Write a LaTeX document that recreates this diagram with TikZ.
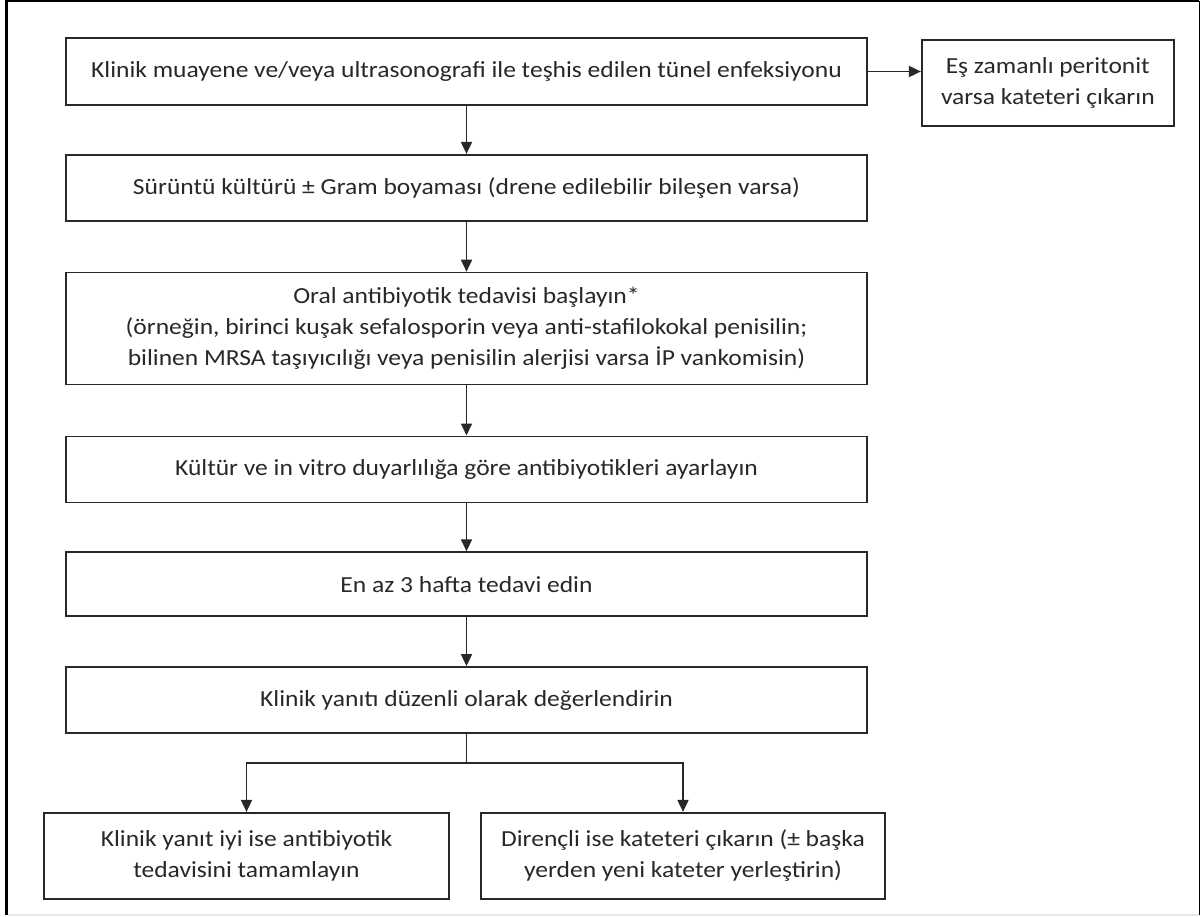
\documentclass[tikz,border=0pt]{standalone}
\usepackage{fontspec}
\setmainfont{Carlito}[FakeStretch=1.11]
\usetikzlibrary{arrows.meta,positioning}
\definecolor{LineDark}{RGB}{40,40,40}
\definecolor{TextDark}{RGB}{40,40,40}
\definecolor{FrameGray}{RGB}{232,232,232}
\tikzset{
  stepbox/.style={draw=LineDark,line width=1.8pt,fill=white,align=center,
    text=TextDark,font=\fontsize{23pt}{31pt}\selectfont,inner sep=0pt},
  mainbox/.style={stepbox,minimum width=801pt,minimum height=66pt},
  sidebox/.style={stepbox,minimum width=252pt,minimum height=86pt},
  endbox/.style={stepbox,minimum width=405pt,minimum height=86pt},
  flowarrow/.style={-{Triangle[length=12pt,width=11pt]},
    line width=1.8pt,draw=LineDark},
}
\begin{document}
\begin{tikzpicture}[x=1pt,y=1pt,node distance=49pt]
  \useasboundingbox (0,0) rectangle (1200,-917);
  % outer frame
  \draw[line width=3pt] (6.5,-915) -- (6.5,-1);
  \draw[line width=2pt] (5,-1) -- (1199.3,-1);
  \draw[line width=1.4pt] (1199.3,-1) -- (1199.3,-915);
  \draw[line width=1.5pt,FrameGray] (8,-915) -- (1199,-915);
  % steps
  \node[mainbox,minimum height=67pt] (tunnel) at (466.5,-71.5)
    {Klinik muayene ve/veya ultrasonografi ile teşhis edilen tünel enfeksiyonu};
  \node[sidebox,right=53pt of tunnel,yshift=-11.5pt] (peritonitis)
    {Eş zamanlı peritonit\\varsa kateteri çıkarın};
  \node[mainbox,below=48pt of tunnel] (swab)
    {Sürüntü kültürü ± Gram boyaması (drene edilebilir bileşen varsa)};
  \node[mainbox,below=50pt of swab,minimum height=112pt] (oral)
    {Oral antibiyotik tedavisi başlayın*\\(örneğin, birinci kuşak sefalosporin veya anti-stafilokokal penisilin;\\bilinen MRSA taşıyıcılığı veya penisilin alerjisi varsa İP vankomisin)};
  \node[mainbox,below=50pt of oral] (adjust)
    {Kültür ve in vitro duyarlılığa göre antibiyotikleri ayarlayın};
  \node[mainbox,below=48pt of adjust,minimum height=64pt] (weeks)
    {En az 3 hafta tedavi edin};
  \node[mainbox,below=49pt of weeks] (assess)
    {Klinik yanıtı düzenli olarak değerlendirin};
  \node[endbox,below=78pt of assess,xshift=-220pt] (complete)
    {Klinik yanıt iyi ise antibiyotik\\tedavisini tamamlayın};
  \node[endbox,below=78pt of assess,xshift=216.5pt,minimum width=404pt] (refractory)
    {Dirençli ise kateteri çıkarın (± başka\\yerden yeni kateter yerleştirin)};
  % connectors
  \draw[flowarrow] (tunnel.east) -- (tunnel.east -| peritonitis.west);
  \draw[flowarrow] (tunnel) -- (swab);
  \draw[flowarrow] (swab) -- (oral);
  \draw[flowarrow] (oral) -- (adjust);
  \draw[flowarrow] (adjust) -- (weeks);
  \draw[flowarrow] (weeks) -- (assess);
  \draw[flowarrow] (assess.south) -- ++(0,-29) -| (complete.north);
  \draw[flowarrow] (assess.south) -- ++(0,-29) -| (refractory.north);
\end{tikzpicture}
\end{document}
